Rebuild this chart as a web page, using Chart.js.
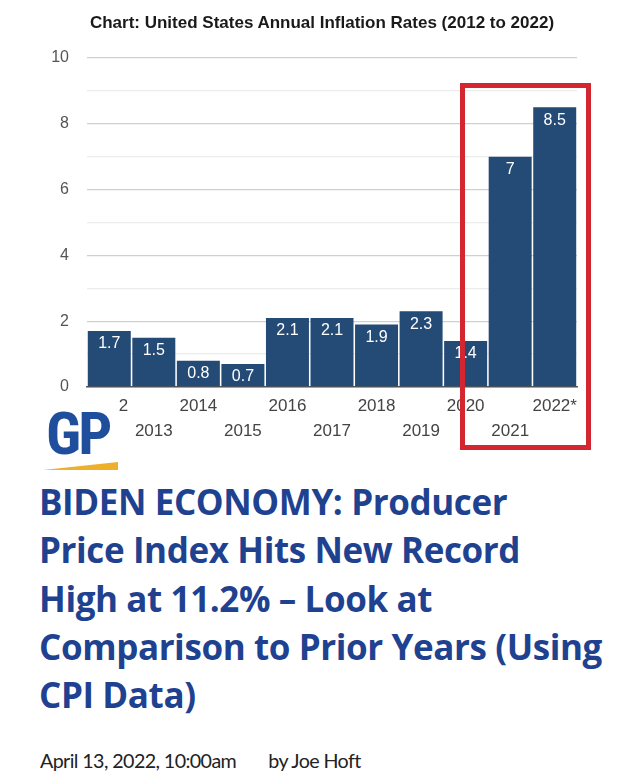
<!DOCTYPE html>
<html>
<head>
<meta charset="utf-8">
<script src="https://cdn.jsdelivr.net/npm/chart.js@4.4.0/dist/chart.umd.min.js"></script>
<style>
  html,body{margin:0;padding:0;background:#fff;}
  body{width:640px;height:779px;position:relative;overflow:hidden;}
  #wrap{position:absolute;left:0;top:0;width:640px;height:470px;}
  #title{position:absolute;left:0;width:644px;top:13px;text-align:center;font:bold 17px "Liberation Sans",Arial,sans-serif;color:#1a1a1a;}
  #zeroCover{position:absolute;left:30px;top:391px;width:50px;height:10px;background:#fff;}
  #logo{position:absolute;left:38px;top:396px;width:80px;height:80px;background:#fff;}
  #logo .gp{position:absolute;left:8px;top:2px;font:bold 60px "Liberation Sans Narrow","Roboto Condensed","Liberation Sans",sans-serif;color:#1f4f9c;letter-spacing:-3px;}
  #redbox{position:absolute;left:460px;top:83px;width:121px;height:357px;border:5px solid #d32630;}
  #headline{position:absolute;left:39px;top:478px;width:600px;font:bold 35px "Open Sans",sans-serif;line-height:48.3px;color:#1f4290;letter-spacing:-0.4px;}
  #meta{position:absolute;left:40px;top:749px;font:19.7px Lato,sans-serif;color:#222;letter-spacing:-0.6px;}
</style>
</head>
<body>
<div id="wrap"><canvas id="c"></canvas></div>
<div id="title">Chart: United States Annual Inflation Rates (2012 to 2022)</div>
<div id="redbox"></div>
<div id="zeroCover"></div>
<div id="logo">
  <div class="gp">GP</div>
  <svg width="80" height="80" style="position:absolute;left:0;top:0">
    <polygon points="5,74 80,66 80,74" fill="#eeb02a"/>
  </svg>
</div>
<div id="headline">BIDEN ECONOMY: Producer<br>Price Index Hits New Record<br>High at 11.2% – Look at<br>Comparison to Prior Years (Using<br>CPI Data)</div>
<div id="meta">April 13, 2022, 10:00am<span style="display:inline-block;width:32px"></span>by Joe Hoft</div>
<script>
const years = ['2012','2013','2014','2015','2016','2017','2018','2019','2020','2021','2022*'];
const inflation = [1.7, 1.5, 0.8, 0.7, 2.1, 2.1, 1.9, 2.3, 1.4, 7, 8.5];
const yTicks = [0, 2, 4, 6, 8, 10];

const labels = years.map((y, i) => i % 2 === 0 ? [y, ''] : ['', y]);

const valueLabels = {
  id: 'valueLabels',
  afterDatasetsDraw(chart) {
    const ctx = chart.ctx;
    const meta = chart.getDatasetMeta(0);
    ctx.save();
    ctx.fillStyle = '#ffffff';
    ctx.font = '16px "Liberation Sans", Arial, sans-serif';
    ctx.textAlign = 'center';
    ctx.textBaseline = 'middle';
    meta.data.forEach((bar, i) => {
      ctx.fillText(String(inflation[i]), bar.x, bar.y + 13);
    });
    ctx.restore();
  }
};

new Chart(document.getElementById('c'), {
  type: 'bar',
  data: {
    labels: labels,
    datasets: [{
      data: inflation,
      backgroundColor: '#244a76',
      borderWidth: 0,
      barPercentage: 0.965,
      categoryPercentage: 1.0
    }]
  },
  options: {
    responsive: true,
    maintainAspectRatio: false,
    animation: false,
    layout: { padding: { top: 58, right: 63, left: 0, bottom: 0 } },
    plugins: { legend: { display: false }, tooltip: { enabled: false }, title: { display: false } },
    scales: {
      x: {
        afterFit(scale) { scale.height = 83; },
        grid: { display: false, drawTicks: false },
        border: { display: true, color: '#555', width: 1.5 },
        ticks: {
          autoSkip: false, maxRotation: 0, minRotation: 0,
          color: '#444', padding: 6.5,
          font: { family: '"Liberation Sans", Arial, sans-serif', size: 17, lineHeight: 1.47 }
        }
      },
      y: {
        min: 0, max: 10,
        afterFit(scale) { scale.width = 87; },
        border: { display: false },
        grid: {
          drawTicks: false,
          color: (c) => (c.tick && c.tick.value % 2 === 0) ? '#d0d0d0' : '#ececec',
          lineWidth: 1.3
        },
        ticks: {
          stepSize: 1,
          padding: 18,
          color: '#555',
          font: { family: '"Liberation Sans", Arial, sans-serif', size: 16 },
          callback: (v) => yTicks.includes(v) ? String(v) : ''
        }
      }
    }
  },
  plugins: [valueLabels]
});
</script>
</body>
</html>
